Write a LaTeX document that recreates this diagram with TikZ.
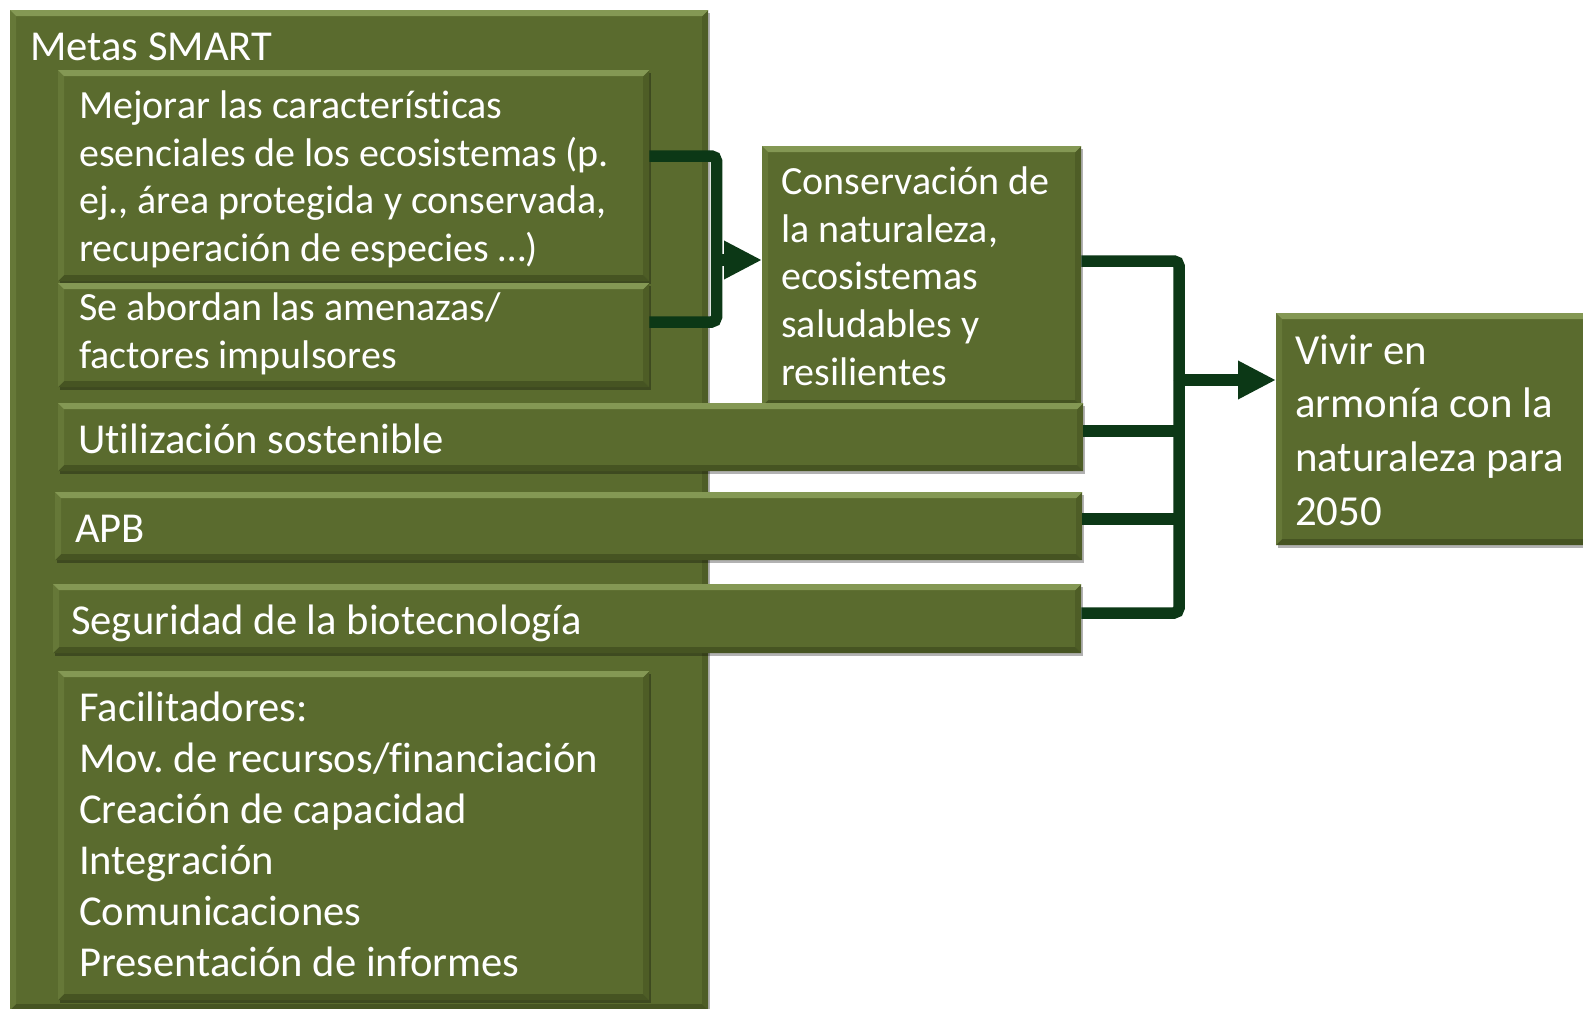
\documentclass[tikz,border=0pt]{standalone}
\usepackage{fontspec}
\setmainfont{Carlito}[Ligatures={NoCommon}]
\usetikzlibrary{arrows.meta,shadows}
\definecolor{boxg}{RGB}{90,107,46}
\definecolor{bevtop}{RGB}{132,152,84}
\definecolor{bevleft}{RGB}{102,120,56}
\definecolor{bevbot}{RGB}{70,84,34}
\definecolor{bevright}{RGB}{78,93,38}
\definecolor{connc}{RGB}{12,56,22}
\newcommand\fstrut{\rule{0pt}{34pt}}
\tikzset{
  box/.style={rectangle, fill=boxg, draw=none, inner sep=0pt, anchor=north west,
    drop shadow={shadow xshift=2pt, shadow yshift=-3pt, opacity=0.3, fill=black},
    path picture={
      \path (path picture bounding box.north west) coordinate (pnw)
            (path picture bounding box.north east) coordinate (pne)
            (path picture bounding box.south west) coordinate (psw)
            (path picture bounding box.south east) coordinate (pse);
      \fill[bevleft] (pnw) -- ([shift={(6pt,-6pt)}]pnw) -- ([shift={(6pt,6pt)}]psw) -- (psw) -- cycle;
      \fill[bevright] (pne) -- ([shift={(-6pt,-6pt)}]pne) -- ([shift={(-6pt,6pt)}]pse) -- (pse) -- cycle;
      \fill[bevbot] (psw) -- ([shift={(6pt,6pt)}]psw) -- ([shift={(-6pt,6pt)}]pse) -- (pse) -- cycle;
      \fill[bevtop] (pnw) -- (pne) -- ([shift={(-6pt,-6pt)}]pne) -- ([shift={(6pt,-6pt)}]pnw) -- cycle;
    }},
  txt/.style={text=white, inner sep=0pt, anchor=north west, align=left},
  fA/.style={font=\frenchspacing\fontsize{42.6}{50}\selectfont},
  fB/.style={font=\frenchspacing\fontsize{40}{47.8}\selectfont},
  fC/.style={font=\frenchspacing\fontsize{42.6}{51.1}\selectfont},
  fD/.style={font=\frenchspacing\fontsize{42.8}{53.7}\selectfont},
  conn/.style={draw=connc, line width=11.5pt, rounded corners=5pt},
  tip/.style={-{Triangle[length=38pt,width=36pt]}}
}
\begin{document}
\begin{tikzpicture}[x=1pt,y=-1pt]
\clip (0,0) rectangle (1583,1009);
\fill[white] (0,0) rectangle (1583,1009);
% boxes
\node[box, minimum width=698pt, minimum height=1000pt] (metas) at (10,10) {};
\node[box, minimum width=591pt, minimum height=211pt] (b1) at (58,70) {};
\node[box, minimum width=591pt, minimum height=104pt] (b2) at (58,283) {};
\node[box, minimum width=319pt, minimum height=260pt] (cons) at (762,146) {};
\node[box, minimum width=1025pt, minimum height=68pt] (b3) at (58,403) {};
\node[box, minimum width=1027pt, minimum height=68pt] (b4) at (55,492) {};
\node[box, minimum width=1028pt, minimum height=69pt] (b5) at (53,584) {};
\node[box, minimum width=591pt, minimum height=329pt] (b6) at (58,671) {};
\node[box, minimum width=330pt, minimum height=232pt] (vivir) at (1276,313) {};
% texts
\node[txt, fA] (tmetas) at (30,26) {\fstrut Metas SMART};
\node[txt, fB] (t1) at (79,84) {\fstrut Mejorar las características\\esenciales de los ecosistemas (p.\\ej., área protegida y conservada,\\recuperación de especies …)};
\node[txt, fB] (t2) at (79,286) {\fstrut Se abordan las amenazas/\\factores impulsores};
\node[txt, fA] (t3) at (78,419) {\fstrut Utilización sostenible};
\node[txt, fA] (t4) at (75,508) {\fstrut APB};
\node[txt, fA] (t5) at (71,600) {\fstrut Seguridad de la biotecnología};
\node[txt, fC] (t6) at (79,687) {\fstrut Facilitadores:\\Mov. de recursos/financiación\\Creación de capacidad\\Integración\\Comunicaciones\\Presentación de informes};
\node[txt, fB] (tcons) at (781,160) {\fstrut Conservación de\\la naturaleza,\\ecosistemas\\saludables y\\resilientes};
\node[txt, fD] (tvivir) at (1295,330) {\fstrut Vivir en\\armonía con la\\naturaleza para\\2050};
% helper coordinates
\coordinate (y156) at (0,156);
\coordinate (y322) at (0,322);
\coordinate (y261) at (0,261);
\coordinate (y431) at (0,431);
\coordinate (y519) at (0,519);
\coordinate (y613) at (0,613);
\coordinate (j1) at (716.5,260);
\coordinate (j2) at (1179,380);
% connectors
\draw[conn] (b1.east |- y156) -| (j1) |- (b2.east |- y322);
\draw[conn, tip] (j1) -- (cons.west |- j1);
\draw[conn] (cons.east |- y261) -| (j2);
\draw[conn] (b5.east |- y613) -| (j2);
\draw[conn] (b3.east |- y431) -- (j2 |- y431);
\draw[conn] (b4.east |- y519) -- (j2 |- y519);
\draw[conn, tip] (j2) -- (vivir.west |- j2);
\end{tikzpicture}
\end{document}
